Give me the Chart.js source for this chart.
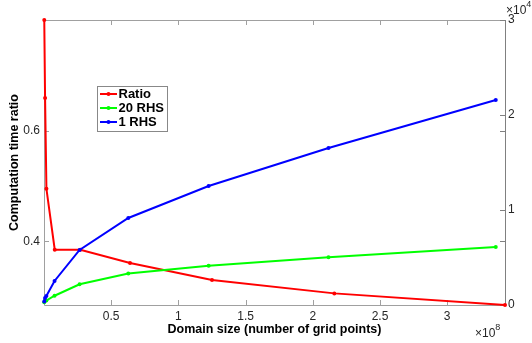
<!DOCTYPE html>
<html>
<head>
<meta charset="utf-8">
<script src="https://cdn.jsdelivr.net/npm/chart.js@4.4.1/dist/chart.umd.min.js"></script>
<style>
  html, body { margin: 0; padding: 0; background: #fff; }
  #wrap { width: 532px; height: 343px; }
</style>
</head>
<body>
<div id="wrap"><canvas id="timeChart"></canvas></div>
<script>
// Domain size (grid points) and timings
const gridPoints = [2e5, 8e5, 1.8e6, 8e6, 2.7e7, 6.4e7, 1.25e8, 2.16e8, 3.43e8];
const ratio = [0.8, 0.659, 0.495, 0.385, 0.385, 0.361, 0.330, 0.306, 0.285];
const rhs20 = [296, 488, 470, 974, 2179, 3320, 4137, 5030, 6100];
const rhs1 = [370, 740, 950, 2530, 5790, 9160, 12530, 16530, 21580];
const xTicks = [0.5e8, 1e8, 1.5e8, 2e8, 2.5e8, 3e8];
const leftTicks = [0.4, 0.6];
const rightTicks = [0, 1e4, 2e4, 3e4];

const legendItems = [
  { label: 'Ratio', color: '#ff0000' },
  { label: '20 RHS', color: '#00ff00' },
  { label: '1 RHS', color: '#0000ff' }
];

Chart.defaults.font.family = '"Liberation Sans", Arial, Helvetica, sans-serif';
Chart.defaults.font.size = 12;
Chart.defaults.color = '#262626';

const toPoints = (xs, ys) => xs.map((x, i) => ({ x: x, y: ys[i] }));

// box, inward ticks, exponents and legend, MATLAB style
const matlabAxes = {
  id: 'matlabAxes',
  beforeDatasetsDraw(chart) {
    const { ctx, chartArea: a, scales } = chart;
    const tl = 5;
    ctx.save();
    ctx.lineWidth = 1;
    ctx.strokeStyle = '#a0a0a0';
    ctx.beginPath();
    ctx.moveTo(a.left + 0.5, a.bottom + 0.5);
    ctx.lineTo(a.left + 0.5, a.top + 0.5);
    ctx.lineTo(a.right + 0.5, a.top + 0.5);
    ctx.moveTo(a.left + 0.5, a.bottom + 0.5);
    ctx.lineTo(a.right + 0.5, a.bottom + 0.5);
    xTicks.forEach(v => {
      const px = Math.round(scales.x.getPixelForValue(v)) + 0.5;
      ctx.moveTo(px, a.bottom);
      ctx.lineTo(px, a.bottom - tl);
      ctx.moveTo(px, a.top);
      ctx.lineTo(px, a.top + tl);
    });
    leftTicks.forEach(v => {
      const py = Math.round(scales.y.getPixelForValue(v)) + 0.5;
      ctx.moveTo(a.left, py);
      ctx.lineTo(a.left + tl, py);
    });
    ctx.stroke();
    ctx.strokeStyle = '#808080';
    ctx.beginPath();
    ctx.moveTo(a.right + 0.5, a.top);
    ctx.lineTo(a.right + 0.5, a.bottom + 1);
    leftTicks.forEach(v => {
      const py = Math.round(scales.y.getPixelForValue(v)) + 0.5;
      ctx.moveTo(a.right, py);
      ctx.lineTo(a.right - tl, py);
    });
    rightTicks.forEach(v => {
      const py = Math.round(scales.y2.getPixelForValue(v)) + 0.5;
      ctx.moveTo(a.right, py);
      ctx.lineTo(a.right - tl, py);
    });
    ctx.stroke();
    ctx.restore();
  },
  afterDraw(chart) {
    const { ctx, chartArea: a } = chart;
    const fam = Chart.defaults.font.family;
    ctx.save();
    ctx.fillStyle = '#262626';
    ctx.textBaseline = 'middle';
    ctx.textAlign = 'left';
    // x10^4 over the right axis
    ctx.font = '12px ' + fam;
    ctx.fillText('\u00d710', a.right + 1, 11);
    let w = ctx.measureText('\u00d710').width;
    ctx.font = '9px ' + fam;
    ctx.fillText('4', a.right + 1 + w, 5);
    // x10^8 under the x axis
    ctx.font = '12px ' + fam;
    ctx.fillText('\u00d710', 475, 334);
    w = ctx.measureText('\u00d710').width;
    ctx.font = '9px ' + fam;
    ctx.fillText('8', 475 + w, 328);

    // legend
    const bx = 97.5, by = 86.5, bw = 70, bh = 45;
    ctx.fillStyle = '#fff';
    ctx.fillRect(bx, by, bw, bh);
    ctx.strokeStyle = '#888';
    ctx.lineWidth = 1;
    ctx.strokeRect(bx, by, bw, bh);
    ctx.font = 'bold 13px ' + fam;
    legendItems.forEach((it, i) => {
      const cy = 94 + i * 14;
      ctx.strokeStyle = it.color;
      ctx.lineWidth = 2;
      ctx.beginPath();
      ctx.moveTo(100, cy);
      ctx.lineTo(117, cy);
      ctx.stroke();
      ctx.fillStyle = it.color;
      ctx.beginPath();
      ctx.arc(108.5, cy, 2, 0, Math.PI * 2);
      ctx.fill();
      ctx.fillStyle = '#000';
      ctx.fillText(it.label, 118.5, cy + 0.5);
    });
    ctx.restore();
  }
};

const ctx = document.getElementById('timeChart').getContext('2d');
const timeChart = new Chart(ctx, {
  type: 'line',
  data: {
    datasets: [{
      label: 'Ratio',
      data: toPoints(gridPoints, ratio),
      borderColor: '#ff0000',
      backgroundColor: '#ff0000',
      xAxisID: 'x',
      yAxisID: 'y',
      order: 3
    }, {
      label: '20 RHS',
      data: toPoints(gridPoints, rhs20),
      borderColor: '#00ff00',
      backgroundColor: '#00ff00',
      xAxisID: 'x2',
      yAxisID: 'y2',
      order: 2
    }, {
      label: '1 RHS',
      data: toPoints(gridPoints, rhs1),
      borderColor: '#0000ff',
      backgroundColor: '#0000ff',
      xAxisID: 'x2',
      yAxisID: 'y2',
      order: 1
    }]
  },
  options: {
    responsive: true,
    maintainAspectRatio: false,
    animation: false,
    layout: { padding: { top: 20, left: 0, right: 0, bottom: 0 } },
    elements: {
      line: { borderWidth: 2, tension: 0 },
      point: { radius: 2, hoverRadius: 2, borderWidth: 0 }
    },
    datasets: { line: { clip: false } },
    plugins: {
      legend: { display: false },
      tooltip: { enabled: false }
    },
    scales: {
      x: {
        type: 'linear',
        position: 'bottom',
        min: 0,
        max: 3.43e8,
        grid: { display: false, drawTicks: false },
        border: { display: false },
        afterFit: s => { s.height = 38; },
        afterBuildTicks: s => { s.ticks = xTicks.map(v => ({ value: v })); },
        ticks: {
          padding: 4,
          maxRotation: 0,
          autoSkip: false,
          callback: v => String(v / 1e8)
        },
        title: {
          display: true,
          text: 'Domain size (number of grid points)',
          color: '#000',
          font: { size: 12.5, weight: 'bold' },
          padding: { top: 0, bottom: 6 }
        }
      },
      x2: {
        type: 'linear',
        display: false,
        min: 0,
        max: 3.5e8
      },
      y: {
        type: 'linear',
        position: 'left',
        min: 0.285,
        max: 0.8,
        grid: { display: false, drawTicks: false },
        border: { display: false },
        afterFit: s => { s.width = 44; },
        afterBuildTicks: s => { s.ticks = leftTicks.map(v => ({ value: v })); },
        ticks: {
          padding: 4,
          callback: v => v.toFixed(1)
        },
        title: {
          display: true,
          text: 'Computation time ratio',
          color: '#000',
          font: { size: 12.5, weight: 'bold' },
          padding: { top: 7, bottom: 0 }
        }
      },
      y2: {
        type: 'linear',
        position: 'right',
        min: 0,
        max: 3e4,
        grid: { display: false, drawTicks: false },
        border: { display: false },
        afterFit: s => { s.width = 27; },
        afterBuildTicks: s => { s.ticks = rightTicks.map(v => ({ value: v })); },
        ticks: {
          padding: 3,
          callback: v => String(v / 1e4)
        }
      }
    }
  },
  plugins: [matlabAxes]
});
</script>
</body>
</html>
